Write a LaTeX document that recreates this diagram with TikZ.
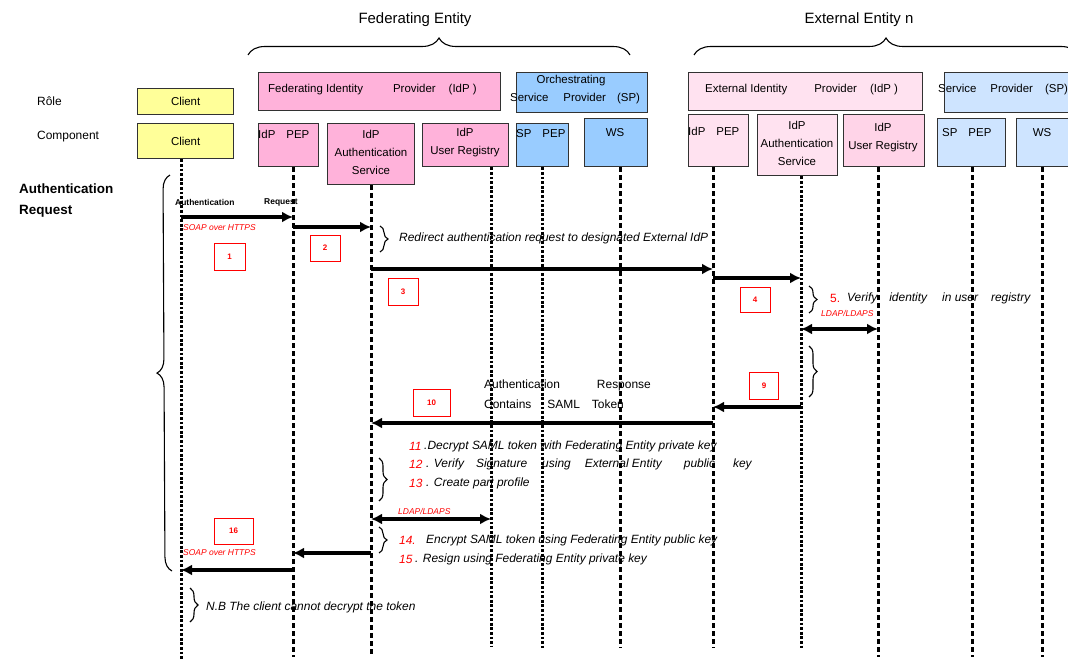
\documentclass[tikz,border=0pt]{standalone}
\usepackage{fontspec}
\setmainfont{Liberation Sans}
\usetikzlibrary{arrows.meta,decorations.pathreplacing}

\definecolor{clientyellow}{RGB}{255,255,153}
\definecolor{fedpink}{RGB}{255,178,218}
\definecolor{orchblue}{RGB}{153,204,255}
\definecolor{extpink}{RGB}{255,226,240}
\definecolor{extpinkdk}{RGB}{255,212,232}
\definecolor{extblue}{RGB}{206,228,255}
\definecolor{boxline}{RGB}{50,50,50}

\begin{document}
\begin{tikzpicture}[x=1bp,y=-1bp,
  box/.style={draw=boxline, line width=1.3bp, inner sep=0pt, anchor=north west},
  title/.style={font=\fontsize{15}{18}\selectfont, inner sep=0pt},
  rowlab/.style={font=\fontsize{12}{14}\selectfont, anchor=west, inner sep=0pt},
  sectlab/.style={font=\fontsize{13.5}{16}\selectfont\bfseries, anchor=west, inner sep=0pt},
  boxlab/.style={font=\fontsize{11.5}{18}\selectfont, align=center, inner sep=0pt},
  boxlabw/.style={font=\fontsize{11.5}{14}\selectfont, anchor=west, inner sep=0pt},
  steptext/.style={font=\fontsize{12}{14}\selectfont\itshape, anchor=west, inner sep=0pt},
  stepnum/.style={font=\fontsize{12}{14}\selectfont\itshape, text=red, anchor=west, inner sep=0pt},
  plaintext/.style={font=\fontsize{12}{14}\selectfont, anchor=west, inner sep=0pt},
  tinybold/.style={font=\fontsize{8.5}{10}\selectfont\bfseries, anchor=west, inner sep=0pt},
  proto/.style={font=\fontsize{8.5}{10}\selectfont\itshape, text=red, anchor=west, inner sep=0pt},
  numbox/.style={draw=red, line width=1bp, inner sep=0pt, text=red,
    font=\fontsize{8}{9}\selectfont\bfseries},
  msg/.style={line width=3.6bp, -{Latex[length=11bp,width=11bp]}},
  msgboth/.style={line width=3.6bp, {Latex[length=11bp,width=11bp]}-{Latex[length=11bp,width=11bp]}},
  lifedash/.style={line width=3bp, dash pattern=on 5bp off 3bp},
  lifedot/.style={line width=3bp, dash pattern=on 2.8bp off 1.8bp},
  curly/.style={decorate, decoration={brace, amplitude=#1}, line width=1.1bp}
]
\useasboundingbox (0,0) rectangle (1068,660);
\fill[white] (0,0) rectangle (1068,660);

% ---------- entity headings ----------
\node[title] (tfed) at (415,20) {Federating Entity};
\node[title] (text) at (859,20) {External Entity n};
\draw[curly=17bp] (248,55) -- (630,55);
\draw[curly=17bp] (694,55) -- (1078,55);

% ---------- row labels ----------
\node[rowlab] (lrole) at (37,101) {Rôle};
\node[rowlab] (lcomp) at (37,137) {Component};
\node[sectlab] (lsect1) at (19,189) {Authentication};
\node[sectlab] (lsect2) at (19,211) {Request};

% ---------- role boxes ----------
\node[box, fill=clientyellow, minimum width=96bp, minimum height=26bp] (crole) at (137,88) {};
\node[boxlab] (tcrole) at (crole.center) {Client};
\node[box, fill=fedpink, minimum width=242bp, minimum height=38bp] (fidp) at (258,72) {};
\node[boxlabw] (tfidp) at (268,90) {Federating Identity\hspace{30bp}Provider\hspace{13bp}(IdP )};
\node[box, fill=orchblue, minimum width=131bp, minimum height=40bp] (osp) at (516,72) {};
\node[boxlab] (tosp1) at (571,81) {Orchestrating};
\node[boxlabw] (tosp2) at (510,99) {Service\hspace{15bp}Provider\hspace{11bp}(SP)};
\node[box, fill=extpink, minimum width=234bp, minimum height=38bp] (eidp) at (688,72) {};
\node[boxlabw] (teidp) at (705,90) {External Identity\hspace{27bp}Provider\hspace{13bp}(IdP )};
\node[box, fill=extblue, minimum width=140bp, minimum height=40bp] (esp) at (944,72) {};
\node[boxlabw] (tesp) at (938,90) {Service\hspace{14bp}Provider\hspace{12bp}(SP)};

% ---------- component boxes ----------
\node[box, fill=clientyellow, minimum width=96bp, minimum height=35bp] (ccomp) at (137,123) {};
\node[boxlab] (tccomp) at (ccomp.center) {Client};
\node[box, fill=fedpink, minimum width=60bp, minimum height=43bp] (ipep) at (258,123) {};
\node[boxlabw] (tipep) at (258,134) {IdP\hspace{11bp}PEP};
\node[box, fill=fedpink, minimum width=87bp, minimum height=61bp] (iauth) at (327,123) {};
\node[boxlab] (tiauth) at (371,152) {IdP\\Authentication\\Service};
\node[box, fill=fedpink, minimum width=86bp, minimum height=43bp] (iur) at (422,123) {};
\node[boxlab] (tiur) at (465,143) {IdP\\User Registry};
\node[box, fill=orchblue, minimum width=52bp, minimum height=43bp] (spep) at (516,123) {};
\node[boxlabw] (tspep) at (516,134) {SP\hspace{11bp}PEP};
\node[box, fill=orchblue, minimum width=63bp, minimum height=48bp] (ws) at (584,118) {};
\node[boxlab] (tws) at (615,133) {WS};
\node[box, fill=extpink, minimum width=60bp, minimum height=52bp] (epep) at (688,114) {};
\node[boxlabw] (tepep) at (688,131) {IdP\hspace{11bp}PEP};
\node[box, fill=extpink, minimum width=80bp, minimum height=61bp] (eauth) at (757,114) {};
\node[boxlab] (teauth) at (797,143) {IdP\\Authentication\\Service};
\node[box, fill=extpinkdk, minimum width=81bp, minimum height=52bp] (eur) at (843,114) {};
\node[boxlab] (teur) at (883,138) {IdP\\User Registry};
\node[box, fill=extblue, minimum width=68bp, minimum height=48bp] (espep) at (937,118) {};
\node[boxlabw] (tespep) at (942,133) {SP\hspace{11bp}PEP};
\node[box, fill=extblue, minimum width=70bp, minimum height=48bp] (ews) at (1016,118) {};
\node[boxlab] (tews) at (1042,133) {WS};

% ---------- lifeline ends ----------
\coordinate (lcl) at (181,662);
\coordinate (lipep) at (293,657);
\coordinate (liauth) at (371,656);
\coordinate (liur) at (491,646);
\coordinate (lspep) at (542,648);
\coordinate (lws) at (620,648);
\coordinate (lepep) at (713,648);
\coordinate (leauth) at (801,648);
\coordinate (leur) at (878,657);
\coordinate (lespep) at (972,657);
\coordinate (lews) at (1042,657);

% ---------- section brace ----------
\draw[curly=14bp] (172,571) -- (170,175);

% ---------- 1: client -> IdP PEP ----------
\node[tinybold] (areq1) at (175,202) {Authentication};
\node[tinybold] (areq2) at (264,202) {Request};
\draw[msg] (lcl |- 0,217) -- (lipep |- 0,217);
\node[proto] (soap1) at (183,228) {SOAP over HTTPS};
\node[numbox, minimum width=31bp, minimum height=27bp] (n1) at (229.5,256.5) {1};

% ---------- 2: IdP PEP -> IdP authentication ----------
\draw[msg] (lipep |- 0,227) -- (liauth |- 0,227);
\node[numbox, minimum width=30bp, minimum height=26bp] (n2) at (325,248) {2};
\draw[curly=8bp] (380,226) -- (380,252);
\node[steptext] (redir) at (399,238) {Redirect authentication request to designated External IdP};

% ---------- 3, 4: towards the external IdP ----------
\draw[msg] (liauth |- 0,269) -- (lepep |- 0,269);
\node[numbox, minimum width=30bp, minimum height=27bp] (n3) at (403,291.5) {3};
\draw[msg] (lepep |- 0,278) -- (leauth |- 0,278);
\node[numbox, minimum width=30bp, minimum height=25bp] (n4) at (755,299.5) {4};

% ---------- 5: verify identity ----------
\draw[curly=8bp] (809,286) -- (809,313);
\node[font=\fontsize{12}{14}\selectfont, text=red, anchor=west, inner sep=0pt] (s5n) at (830,298) {5.};
\node[steptext] (s5t) at (847,298) {Verify\hspace{12bp}identity\hspace{15bp}in user\hspace{13bp}registry};
\node[proto] (ldap1) at (821,313) {LDAP/LDAPS};
\draw[msgboth] (leauth |- 0,329) -- (leur |- 0,329);
\draw[curly=8bp] (809,346) -- (809,397);

% ---------- 9, 10: authentication response ----------
\node[numbox, minimum width=29bp, minimum height=27bp] (n9) at (764,385.5) {9};
\draw[msg] (leauth |- 0,407) -- (lepep |- 0,407);
\node[plaintext] (resp1) at (484,385) {Authentication\hspace{37bp}Response};
\node[plaintext] (resp2) at (484,404) {Contains\hspace{16bp}SAML\hspace{12bp}Token};
\node[numbox, minimum width=37bp, minimum height=27bp] (n10) at (431.5,402.5) {10};
\draw[msg] (lepep |- 0,423) -- (liauth |- 0,423);

% ---------- 11-13 ----------
\node[stepnum] (s11n) at (409,446) {11};
\node[steptext] (s11t) at (424,446) {.Decrypt SAML token with Federating Entity private key};
\node[stepnum] (s12n) at (409,464) {12};
\node[steptext] (s12t) at (426,464) {. Verify\hspace{12bp}Signature\hspace{15bp}using\hspace{14bp}External Entity\hspace{22bp}public\hspace{18bp}key};
\node[stepnum] (s13n) at (409,483) {13};
\node[steptext] (s13t) at (426,483) {. Create part profile};
\draw[curly=8bp] (379,458) -- (379,501);
\node[proto] (ldap2) at (398,511) {LDAP/LDAPS};
\draw[msgboth] (liauth |- 0,519) -- (liur |- 0,519);

% ---------- 14-16 ----------
\draw[curly=8bp] (379,527) -- (379,553);
\node[stepnum] (s14n) at (399,540) {14.};
\node[steptext] (s14t) at (426,540) {Encrypt SAML token using Federating Entity public key};
\node[stepnum] (s15n) at (399,559) {15};
\node[steptext] (s15t) at (415,559) {. Resign using Federating Entity private key};
\draw[msg] (liauth |- 0,553) -- (lipep |- 0,553);
\node[numbox, minimum width=39bp, minimum height=26bp] (n16) at (233.5,531) {16};
\node[proto] (soap2) at (183,553) {SOAP over HTTPS};
\draw[msg] (lipep |- 0,570) -- (lcl |- 0,570);

% ---------- note ----------
\draw[curly=8bp] (190,588) -- (190,622);
\node[steptext] (note) at (206,607) {N.B The client cannot decrypt the token};

% ---------- lifelines ----------
\draw[lifedot] (ccomp.south -| lcl) -- (lcl);
\draw[lifedash] (ipep.south -| lipep) -- (lipep);
\draw[lifedash] (iauth.south -| liauth) -- (liauth);
\draw[lifedot] (iur.south -| liur) -- (liur);
\draw[lifedot] (spep.south -| lspep) -- (lspep);
\draw[lifedash] (ws.south -| lws) -- (lws);
\draw[lifedash] (epep.south -| lepep) -- (lepep);
\draw[lifedot] (eauth.south -| leauth) -- (leauth);
\draw[lifedash] (eur.south -| leur) -- (leur);
\draw[lifedash] (espep.south -| lespep) -- (lespep);
\draw[lifedash] (ews.south -| lews) -- (lews);
\end{tikzpicture}
\end{document}
